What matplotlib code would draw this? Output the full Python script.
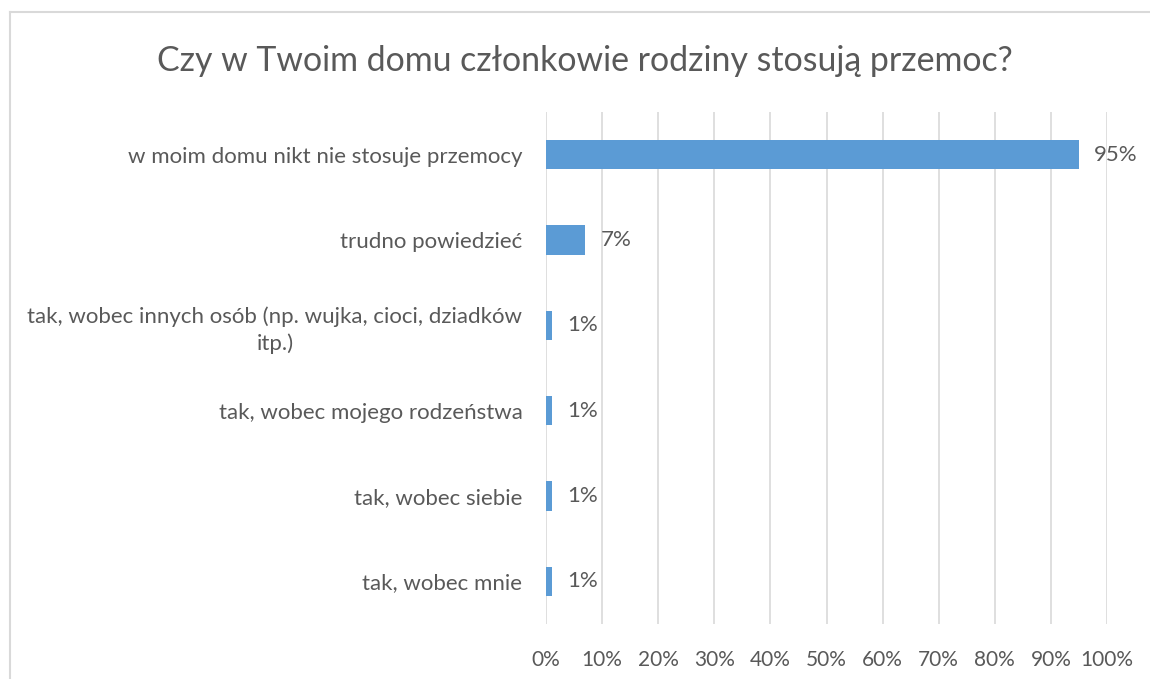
import matplotlib
matplotlib.use("Agg")
import matplotlib.pyplot as plt
from matplotlib.lines import Line2D

categories = [
    "w moim domu nikt nie stosuje przemocy",
    "trudno powiedzieć",
    "tak, wobec innych osób (np. wujka, cioci, dziadków\nitp.)",
    "tak, wobec mojego rodzeństwa",
    "tak, wobec siebie",
    "tak, wobec mnie",
]
values = [95, 7, 1, 1, 1, 1]
value_labels = ["95%", "7%", "1%", "1%", "1%", "1%"]
ticks = [0, 10, 20, 30, 40, 50, 60, 70, 80, 90, 100]
tick_labels = [f"{t}%" for t in ticks]
title = "Czy w Twoim domu członkowie rodziny stosują przemoc?"

plt.rcParams['font.family'] = ['Lato', 'DejaVu Sans']
text_color = "#595959"

fig = plt.figure(figsize=(11.5, 6.79), dpi=100)
ax = fig.add_axes([546/1150, 1-624/679, (1107-546)/1150, (624-112)/679])

y = list(range(len(categories)))
ax.barh(y, values, height=0.34, color="#5B9BD5", zorder=3)
ax.set_ylim(len(categories)-0.5, -0.5)
ax.set_xlim(0, 100)
ax.set_xticks(ticks)
ax.set_xticklabels(tick_labels)
ax.set_yticks(y)
ax.set_yticklabels(categories, multialignment='center', fontsize=16, linespacing=1.35)
ax.tick_params(axis='x', length=0, labelsize=15, colors=text_color, pad=19)
ax.tick_params(axis='y', length=0, colors=text_color, pad=17)
ax.grid(axis='x', color="#D9D9D9", linewidth=1.2, zorder=0)
for s in ax.spines.values():
    s.set_visible(False)

for yi, v, lab in zip(y, values, value_labels):
    ax.annotate(lab, (v, yi), xytext=(11, 0), textcoords='offset points',
                va='center', ha='left', fontsize=16, color=text_color)

fig.text(585/1150, 1-61/679, title, ha='center', va='center', fontsize=24.4, color=text_color)

fig.add_artist(Line2D([9.5/1150, 9.5/1150], [0, 1-12/679], transform=fig.transFigure, color="#D9D9D9", linewidth=1.5))
fig.add_artist(Line2D([9.5/1150, 1], [1-12/679, 1-12/679], transform=fig.transFigure, color="#D9D9D9", linewidth=1.5))

fig.savefig("out.png", dpi=100)
